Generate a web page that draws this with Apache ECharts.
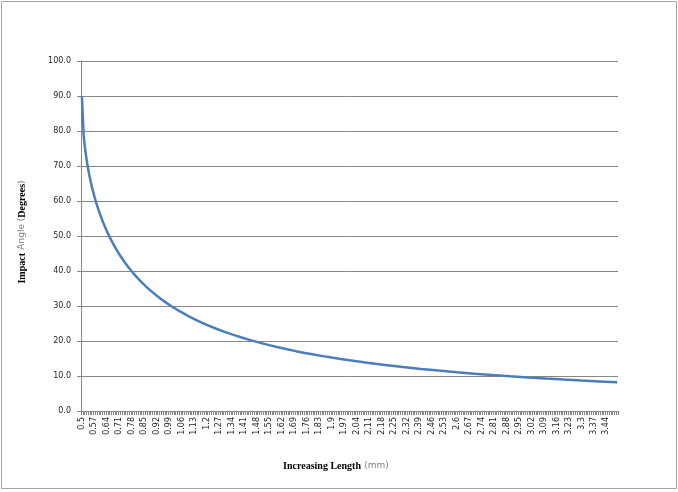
<!DOCTYPE html>
<html>
<head>
<meta charset="utf-8">
<script src="https://cdn.jsdelivr.net/npm/echarts@6/dist/echarts.min.js"></script>
<style>html,body{margin:0;padding:0;background:#fff;}#c{width:678px;height:492px;}</style>
</head>
<body>
<div id="c"></div>
<script>
const categories = [
'0.5','0.51','0.52','0.53','0.54','0.55','0.56','0.57','0.58','0.59',
'0.6','0.61','0.62','0.63','0.64','0.65','0.66','0.67','0.68','0.69',
'0.7','0.71','0.72','0.73','0.74','0.75','0.76','0.77','0.78','0.79',
'0.8','0.81','0.82','0.83','0.84','0.85','0.86','0.87','0.88','0.89',
'0.9','0.91','0.92','0.93','0.94','0.95','0.96','0.97','0.98','0.99',
'1','1.01','1.02','1.03','1.04','1.05','1.06','1.07','1.08','1.09',
'1.1','1.11','1.12','1.13','1.14','1.15','1.16','1.17','1.18','1.19',
'1.2','1.21','1.22','1.23','1.24','1.25','1.26','1.27','1.28','1.29',
'1.3','1.31','1.32','1.33','1.34','1.35','1.36','1.37','1.38','1.39',
'1.4','1.41','1.42','1.43','1.44','1.45','1.46','1.47','1.48','1.49',
'1.5','1.51','1.52','1.53','1.54','1.55','1.56','1.57','1.58','1.59',
'1.6','1.61','1.62','1.63','1.64','1.65','1.66','1.67','1.68','1.69',
'1.7','1.71','1.72','1.73','1.74','1.75','1.76','1.77','1.78','1.79',
'1.8','1.81','1.82','1.83','1.84','1.85','1.86','1.87','1.88','1.89',
'1.9','1.91','1.92','1.93','1.94','1.95','1.96','1.97','1.98','1.99',
'2','2.01','2.02','2.03','2.04','2.05','2.06','2.07','2.08','2.09',
'2.1','2.11','2.12','2.13','2.14','2.15','2.16','2.17','2.18','2.19',
'2.2','2.21','2.22','2.23','2.24','2.25','2.26','2.27','2.28','2.29',
'2.3','2.31','2.32','2.33','2.34','2.35','2.36','2.37','2.38','2.39',
'2.4','2.41','2.42','2.43','2.44','2.45','2.46','2.47','2.48','2.49',
'2.5','2.51','2.52','2.53','2.54','2.55','2.56','2.57','2.58','2.59',
'2.6','2.61','2.62','2.63','2.64','2.65','2.66','2.67','2.68','2.69',
'2.7','2.71','2.72','2.73','2.74','2.75','2.76','2.77','2.78','2.79',
'2.8','2.81','2.82','2.83','2.84','2.85','2.86','2.87','2.88','2.89',
'2.9','2.91','2.92','2.93','2.94','2.95','2.96','2.97','2.98','2.99',
'3','3.01','3.02','3.03','3.04','3.05','3.06','3.07','3.08','3.09',
'3.1','3.11','3.12','3.13','3.14','3.15','3.16','3.17','3.18','3.19',
'3.2','3.21','3.22','3.23','3.24','3.25','3.26','3.27','3.28','3.29',
'3.3','3.31','3.32','3.33','3.34','3.35','3.36','3.37','3.38','3.39',
'3.4','3.41','3.42','3.43','3.44','3.45','3.46','3.47','3.48','3.49',
'3.5'
];
// lengths (mm) at which the curve was read, and the impact angle (degrees) read there
const sampleLengths = ['0.5','0.51','0.52','0.53','0.54','0.55','0.56','0.57','0.58','0.59','0.6',
'0.62','0.64','0.66','0.68','0.7','0.72','0.74','0.76','0.78','0.8',
'0.82','0.84','0.86','0.88','0.9','0.92','0.94','0.96','0.98','1',
'1.05','1.1','1.15','1.2','1.25','1.3','1.35','1.4','1.45','1.5','1.55','1.6','1.65','1.7','1.75','1.8','1.85','1.9','1.95','2',
'2.1','2.2','2.3','2.4','2.5','2.6','2.7','2.8','2.9','3','3.1','3.2','3.3','3.4','3.5'];
const impactAngles = [90,78.63,74.06,70.63,67.81,65.38,63.23,61.31,59.55,57.94,56.44,
53.75,51.38,49.25,47.33,45.58,43.98,42.51,41.14,39.87,38.68,
37.57,36.53,35.55,34.62,33.75,32.92,32.13,31.39,30.68,30.00,
28.44,27.04,25.77,24.62,23.58,22.62,21.74,20.92,20.17,19.47,18.82,18.21,17.64,17.10,16.60,16.13,15.68,15.26,14.86,14.48,
13.77,13.14,12.56,12.02,11.54,11.09,10.67,10.29,9.93,9.59,9.28,8.99,8.71,8.46,8.21];
const yTicks = {min: 0, max: 100, interval: 10};

const chart = echarts.init(document.getElementById('c'), null, {renderer: 'canvas'});
const seriesData = sampleLengths.map((l, i) => [l, impactAngles[i]]);
chart.setOption({
  animation: false,
  backgroundColor: '#fff',
  grid: {left: 81, right: 60, top: 61, bottom: 81, containLabel: false},
  xAxis: {
    type: 'category',
    data: categories,
    boundaryGap: true,
    axisLine: {lineStyle: {color: '#868686', width: 1}},
    axisTick: {show: true, interval: 0, length: 4, lineStyle: {color: '#868686'}},
    axisLabel: {interval: 6, rotate: 90, fontSize: 8, fontFamily: 'DejaVu Sans', color: '#262626', margin: 6},
    splitLine: {show: false}
  },
  yAxis: {
    type: 'value',
    min: yTicks.min, max: yTicks.max, interval: yTicks.interval,
    axisLine: {show: true, lineStyle: {color: '#868686', width: 1}},
    axisTick: {show: true, length: 4, lineStyle: {color: '#868686'}},
    axisLabel: {fontSize: 8, fontFamily: 'DejaVu Sans', color: '#262626', margin: 10, formatter: v => v.toFixed(1)},
    splitLine: {show: true, lineStyle: {color: '#868686', width: 1}}
  },
  graphic: [
    {type: 'rect', shape: {x: 1.5, y: 1.5, width: 675, height: 487}, style: {fill: 'none', stroke: '#a6a6a6', lineWidth: 1}, silent: true},
    {type: 'text', x: 336, y: 466, style: {
      text: '{b|Increasing Length} {g|(mm)}', align: 'center', verticalAlign: 'middle',
      rich: {
        b: {fontFamily: 'Liberation Serif', fontWeight: 'bold', fontSize: 10, fill: '#000'},
        g: {fontFamily: 'DejaVu Sans', fontSize: 9, fill: '#7f7f7f'}
      }}},
    {type: 'text', x: 22, y: 232, rotation: Math.PI / 2, style: {
      text: '{b|Impact} {g|Angle (}{b|Degrees}{g|)}', align: 'center', verticalAlign: 'middle',
      rich: {
        b: {fontFamily: 'Liberation Serif', fontWeight: 'bold', fontSize: 10, fill: '#000'},
        g: {fontFamily: 'DejaVu Sans', fontSize: 9, fill: '#7f7f7f'}
      }}}
  ],
  series: [{
    type: 'line',
    data: seriesData,
    showSymbol: false,
    symbol: 'none',
    lineStyle: {color: '#4a7ebb', width: 2.5},
    z: 3
  }]
});
</script>
</body>
</html>
